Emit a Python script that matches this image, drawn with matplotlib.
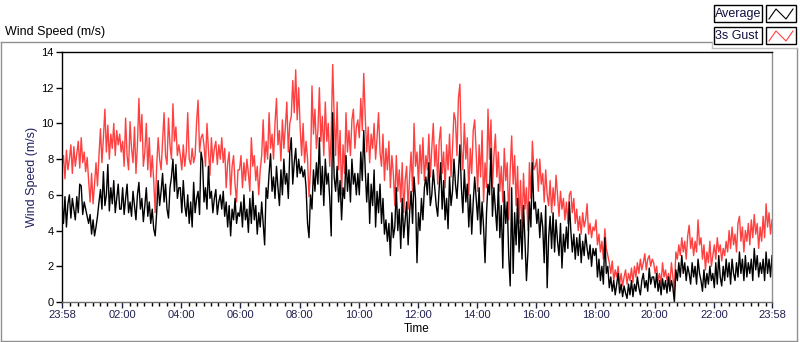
import matplotlib.pyplot as plt
from matplotlib.lines import Line2D
from matplotlib.patches import Rectangle
import numpy as np

# 3 minute samples, 23:58 -> 23:58 (one row = two hours)
average = [
    5.6, 4.4, 5.9, 4.2, 5.5, 6.0, 4.7, 5.8, 5.2, 4.6, 5.9, 5.0, 6.6, 6.5, 4.9, 5.6, 5.2, 4.8, 4.4, 4.9,
    3.8, 4.6, 3.7, 4.2, 4.8, 5.6, 6.3, 5.2, 7.3, 5.4, 6.0, 7.7, 5.1, 6.4, 5.5, 6.8, 5.0, 5.8, 6.6, 5.2,
    5.2, 6.4, 4.9, 5.8, 6.6, 5.0, 5.6, 4.8, 6.2, 5.4, 4.6, 6.0, 6.7, 5.2, 5.8, 4.5, 5.4, 6.4, 4.8, 5.6,
    4.4, 5.2, 4.1, 3.7, 5.0, 6.8, 5.4, 6.2, 7.2, 5.6, 6.6, 5.2, 4.7, 6.4, 7.0, 8.0, 6.2, 7.7, 5.8, 6.4,
    6.4, 5.0, 6.8, 5.4, 4.8, 6.0, 4.4, 5.6, 4.2, 6.7, 5.0, 5.8, 6.2, 4.9, 8.4, 7.9, 5.6, 6.4, 5.2, 7.6,
    5.8, 6.2, 5.0, 5.8, 6.3, 4.9, 5.6, 6.0, 5.2, 6.2, 4.8, 5.6, 4.2, 5.4, 3.7, 5.2, 4.6, 5.8, 4.4, 5.0,
    4.8, 5.6, 4.2, 6.0, 4.6, 5.2, 3.9, 5.8, 4.4, 6.2, 4.6, 5.4, 3.8, 5.0, 4.2, 5.6, 4.4, 3.2, 6.4, 5.8,
    7.2, 8.3, 6.2, 7.0, 5.8, 7.6, 6.4, 5.4, 7.4, 6.0, 8.0, 6.6, 7.2, 5.8, 8.4, 9.2, 6.6, 7.8, 8.6, 7.0,
    8.0, 7.2, 7.6, 7.0, 7.4, 6.4, 4.4, 3.6, 6.0, 5.2, 7.4, 6.2, 7.8, 6.6, 9.2, 6.0, 7.6, 5.4, 8.0, 6.6,
    7.2, 5.8, 3.7, 10.6, 7.0, 6.2, 7.6, 5.6, 6.8, 4.6, 6.4, 5.8, 8.2, 6.2, 7.4, 5.6, 8.0, 6.6, 7.2, 6.0,
    7.2, 6.0, 8.4, 6.8, 9.6, 7.4, 5.6, 7.2, 4.4, 6.6, 5.4, 7.4, 4.2, 6.2, 5.0, 6.6, 4.4, 5.8, 3.8, 4.6,
    3.4, 4.4, 2.6, 5.0, 3.6, 4.2, 6.4, 4.0, 5.2, 3.0, 5.8, 3.6, 4.6, 5.6, 3.2, 5.0, 6.2, 4.4, 7.0, 5.8,
    2.2, 5.0, 4.0, 5.8, 4.6, 6.4, 7.0, 6.0, 7.8, 5.4, 6.0, 7.4, 6.4, 5.4, 4.8, 6.4, 7.8, 5.2, 6.8, 4.6,
    5.8, 4.1, 7.0, 5.4, 6.2, 8.0, 6.6, 5.8, 7.2, 8.8, 6.4, 5.0, 7.4, 5.6, 6.6, 4.2, 6.0, 3.8, 5.6, 7.0,
    5.8, 4.6, 6.4, 3.8, 5.6, 4.2, 2.2, 5.0, 6.6, 6.0, 8.6, 4.8, 6.4, 5.2, 4.0, 6.6, 3.6, 5.4, 1.9, 6.2,
    4.4, 5.6, 2.6, 0.9, 6.4, 1.6, 5.0, 3.2, 5.8, 2.8, 4.6, 2.4, 5.4, 3.4, 1.2, 2.8, 5.6, 4.2, 7.8, 5.2,
    5.6, 4.4, 5.2, 3.6, 5.0, 4.2, 2.2, 5.4, 0.8, 3.6, 4.8, 3.0, 5.0, 2.8, 4.6, 3.4, 2.6, 4.4, 1.9, 3.8,
    2.8, 4.2, 3.0, 5.6, 4.0, 2.8, 3.8, 2.4, 3.6, 2.6, 3.8, 2.2, 3.4, 2.6, 3.8, 3.0, 2.4, 3.2, 2.0, 3.0,
    2.6, 3.0, 1.4, 2.4, 1.2, 2.0, 1.0, 3.6, 1.6, 2.0, 0.8, 1.4, 0.6, 1.2, 0.4, 1.0, 1.6, 0.5, 1.0, 0.3,
    0.9, 0.5, 0.2, 1.0, 0.4, 1.2, 0.3, 1.0, 0.6, 1.4, 0.8, 0.4, 1.2, 1.6, 0.8, 1.2, 0.6, 1.9, 1.0, 1.4,
    1.4, 0.8, 1.6, 0.6, 1.2, 0.4, 1.3, 0.7, 1.2, 0.5, 1.4, 0.6, 1.2, 0.8, 0.0, 1.8, 1.2, 2.2, 1.4, 2.6,
    1.6, 2.2, 1.2, 2.0, 1.6, 1.0, 2.2, 1.4, 2.0, 1.0, 2.4, 1.6, 1.2, 0.6, 1.8, 0.8, 1.6, 1.0, 2.0, 1.2,
    1.6, 0.8, 2.2, 1.0, 2.6, 1.4, 0.9, 2.0, 1.2, 2.4, 1.4, 2.2, 1.0, 2.4, 1.6, 1.2, 2.2, 1.4, 2.8, 1.6,
    2.4, 1.2, 2.6, 1.4, 2.2, 1.6, 2.4, 1.2, 3.0, 1.8, 2.6, 1.4, 2.2, 1.6, 2.4, 1.2, 2.8, 1.6, 2.4, 1.4,
    2.6,
]

gust = [
    7.6, 8.2, 6.9, 8.5, 7.4, 8.0, 8.8, 7.2, 8.7, 7.6, 8.3, 9.0, 7.5, 9.2, 7.8, 8.4, 7.3, 8.1, 6.8, 5.6,
    7.2, 5.5, 6.6, 7.8, 6.5, 8.2, 9.7, 7.8, 9.2, 10.8, 8.4, 9.9, 8.0, 9.4, 8.6, 10.0, 8.2, 9.6, 8.8, 9.4,
    8.4, 9.0, 7.6, 10.3, 8.2, 7.4, 10.1, 8.6, 7.8, 9.8, 7.2, 8.8, 11.4, 9.0, 10.5, 7.6, 8.4, 10.0, 7.4, 9.2,
    7.0, 8.2, 6.8, 5.0, 7.6, 9.2, 8.0, 7.4, 9.0, 10.6, 8.2, 7.7, 10.3, 8.8, 8.0, 11.1, 9.0, 9.8, 8.2, 8.8,
    8.2, 7.4, 8.8, 7.6, 8.4, 10.6, 8.0, 7.7, 8.6, 7.8, 8.2, 10.1, 11.3, 8.4, 9.2, 9.4, 8.8, 7.6, 10.0, 8.6,
    7.1, 9.2, 7.8, 8.6, 9.0, 7.7, 8.8, 8.0, 9.2, 7.8, 8.6, 6.4, 7.8, 8.4, 6.0, 7.6, 8.2, 6.6, 5.6, 7.4,
    7.4, 8.2, 6.4, 7.8, 6.8, 8.0, 7.2, 6.2, 9.2, 7.6, 8.2, 6.8, 7.6, 6.0, 7.4, 8.2, 10.2, 7.8, 9.0, 8.0,
    10.6, 8.6, 9.4, 8.0, 10.0, 11.4, 8.8, 9.6, 7.9, 10.2, 8.6, 9.8, 11.2, 8.4, 10.0, 10.4, 12.4, 10.6, 13.0, 10.2,
    12.0, 9.8, 8.2, 10.0, 7.8, 9.0, 8.0, 5.9, 7.4, 12.1, 9.4, 10.8, 8.6, 9.6, 12.0, 9.0, 10.4, 8.2, 11.2, 9.0,
    10.0, 7.6, 9.4, 13.3, 10.4, 8.2, 11.2, 7.4, 9.6, 6.0, 8.8, 7.2, 10.6, 8.4, 9.6, 8.2, 10.2, 10.8, 8.6, 9.8,
    10.2, 9.2, 11.4, 9.6, 12.8, 10.4, 8.4, 9.8, 7.8, 9.4, 8.6, 10.0, 8.0, 9.2, 10.6, 8.4, 7.6, 9.4, 6.8, 8.6,
    7.4, 9.0, 6.4, 8.2, 7.2, 5.4, 8.2, 6.2, 7.4, 5.6, 7.8, 5.0, 6.8, 7.6, 5.2, 7.0, 8.4, 6.2, 10.0, 7.6,
    8.4, 6.6, 8.8, 7.2, 9.2, 6.8, 8.2, 7.4, 9.4, 7.0, 8.6, 10.0, 7.6, 8.8, 6.6, 9.0, 9.8, 7.2, 8.4, 6.4,
    8.8, 7.4, 9.4, 7.0, 8.6, 10.6, 10.2, 8.2, 11.4, 12.2, 8.6, 7.4, 10.0, 8.0, 9.2, 6.0, 8.6, 7.2, 9.6, 10.2,
    8.4, 6.2, 8.8, 7.0, 9.6, 5.6, 7.8, 6.4, 10.8, 8.0, 10.2, 6.4, 8.2, 9.4, 7.0, 8.4, 6.2, 7.6, 5.6, 8.6,
    6.8, 7.8, 4.6, 7.4, 9.3, 6.6, 8.2, 5.4, 7.6, 4.4, 6.8, 3.8, 7.2, 5.2, 6.4, 4.0, 7.8, 5.8, 9.0, 7.4,
    7.6, 8.0, 6.2, 8.0, 6.6, 7.2, 5.6, 7.4, 6.0, 5.4, 6.8, 5.0, 6.4, 5.4, 7.1, 6.0, 4.8, 6.2, 5.2, 5.8,
    4.6, 5.6, 4.4, 6.0, 6.2, 5.0, 5.8, 4.4, 5.2, 4.0, 4.8, 3.8, 5.0, 4.2, 4.6, 5.5, 3.8, 4.4, 3.6, 4.2,
    4.0, 4.6, 3.2, 3.8, 2.8, 3.4, 2.4, 4.1, 3.0, 2.6, 2.2, 1.6, 2.3, 1.2, 1.8, 1.4, 2.0, 1.0, 1.6, 0.9,
    1.4, 1.8, 1.0, 1.6, 1.2, 1.9, 1.1, 2.0, 1.4, 2.2, 1.6, 2.4, 1.8, 2.2, 2.7, 1.8, 2.4, 2.6, 2.0, 2.4,
    2.2, 1.6, 2.0, 1.2, 1.6, 1.0, 2.2, 1.4, 1.8, 1.2, 1.6, 1.0, 2.2, 1.4, 0.6, 2.8, 2.4, 3.2, 2.6, 3.6,
    2.8, 3.4, 2.4, 3.7, 4.3, 3.0, 3.6, 2.6, 3.4, 2.8, 4.6, 3.2, 3.6, 2.4, 3.2, 1.8, 2.8, 2.2, 3.4, 2.0,
    2.6, 3.2, 2.4, 3.6, 2.8, 3.2, 2.3, 3.0, 2.6, 3.4, 2.8, 4.0, 3.0, 4.2, 3.2, 3.8, 2.8, 4.4, 4.8, 3.4,
    4.2, 2.8, 4.0, 3.4, 4.4, 3.2, 4.6, 3.6, 4.9, 3.8, 4.4, 3.0, 4.2, 3.4, 4.8, 3.6, 5.5, 4.2, 5.0, 3.8,
    4.6,
]

minutes = np.arange(len(average)) * 3  # minutes since 23:58
tick_minutes = [0, 122, 242, 362, 482, 602, 722, 842, 962, 1082, 1202, 1322, 1440]
tick_labels = ['23:58', '02:00', '04:00', '06:00', '08:00', '10:00', '12:00',
               '14:00', '16:00', '18:00', '20:00', '22:00', '23:58']

plt.rcParams['font.family'] = ['Liberation Sans', 'DejaVu Sans']
fig = plt.figure(figsize=(8, 3.42), dpi=100)
ax = fig.add_axes([62/800, 40/342, 710/800, 250/342])

ax.plot(minutes, gust, color='#ff4040', lw=1.0)
ax.plot(minutes, average, color='black', lw=1.0)

ax.set_xlim(0, 1440)
ax.set_ylim(0, 14)
ax.set_yticks(range(0, 15, 2))
ax.set_xticks(tick_minutes)
ax.set_xticklabels(tick_labels)
ax.set_xticks(np.arange(17, 1440, 15), minor=True)
ax.tick_params(axis='both', labelsize=8, length=4, width=1, pad=2)
ax.tick_params(axis='x', which='minor', length=3, width=1)
ax.tick_params(axis='x', colors='#202040', labelcolor='#202050')
ax.tick_params(axis='y', colors='black')

ax.spines['left'].set_color('black')
ax.spines['top'].set_color('black')
ax.spines['bottom'].set_color('#707070')
ax.spines['right'].set_color('#909090')
for s in ax.spines.values():
    s.set_linewidth(1)

ax.set_xlabel('Time', fontsize=8.5, labelpad=2)
ax.set_ylabel('Wind Speed (m/s)', fontsize=9, color='#202060', labelpad=2)

# chart frame and title
fig.text(5/800, 1 - 32/342, 'Wind Speed (m/s)', fontsize=9, va='center')
fig.add_artist(Line2D([1/800, 712/800], [1 - 42/342, 1 - 42/342], color='#909090', lw=1))
fig.add_artist(Line2D([1/800, 1/800], [0, 1 - 42/342], color='#909090', lw=1))
fig.add_artist(Line2D([797/800, 797/800], [0, 1 - 48/342], color='#909090', lw=1))
fig.add_artist(Line2D([1/800, 797/800], [1/342, 1/342], color='#909090', lw=1))
fig.add_artist(Line2D([712/800, 797/800], [1 - 48/342, 1 - 48/342], color='#c0c0c0', lw=1))
fig.add_artist(Line2D([712/800, 712/800], [1 - 48/342, 1 - 42/342], color='#c0c0c0', lw=1))

# legend
rows = [('Average', 'black', 5), ('3s Gust', '#ff4040', 27)]
for name, col, top in rows:
    fig.add_artist(Rectangle((714/800, 1 - (top + 17)/342), 48/800, 17/342,
                             fill=False, ec='black', lw=1))
    fig.text(715/800, 1 - (top + 9)/342, name, fontsize=9, va='center', color='#101040')
    fig.add_artist(Rectangle((766/800, 1 - (top + 17)/342), 30/800, 17/342,
                             fill=False, ec='black', lw=1))
    fig.add_artist(Line2D([769/800, 776/800, 786/800, 793/800],
                          [1 - (top + 14)/342, 1 - (top + 4)/342, 1 - (top + 14)/342, 1 - (top + 4)/342],
                          color=col, lw=0.8))

fig.savefig('out.png', dpi=100)
